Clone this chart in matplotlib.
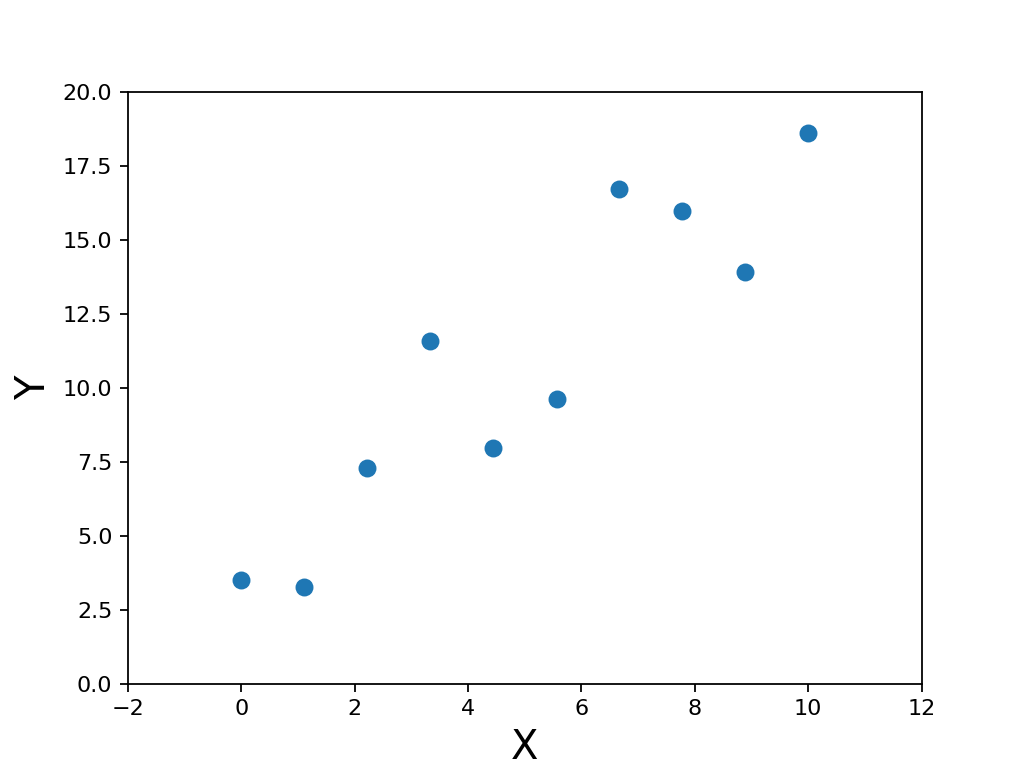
import matplotlib
matplotlib.use("Agg")
import matplotlib.pyplot as plt

x_values = [0.0, 1.11, 2.22, 3.33, 4.44, 5.56, 6.67, 7.78, 8.89, 10.0]
y_values = [3.51, 3.28, 7.30, 11.59, 7.97, 9.63, 16.72, 15.98, 13.92, 18.61]

fig, ax = plt.subplots(figsize=(6.4, 4.8), dpi=160)
ax.scatter(x_values, y_values, s=50, color="#1f77b4")
ax.set_xlim(-2, 12)
ax.set_ylim(0, 20)
ax.set_xlabel("X", fontsize=18)
ax.set_ylabel("Y", fontsize=18)
fig.savefig("out.png", dpi=160)
